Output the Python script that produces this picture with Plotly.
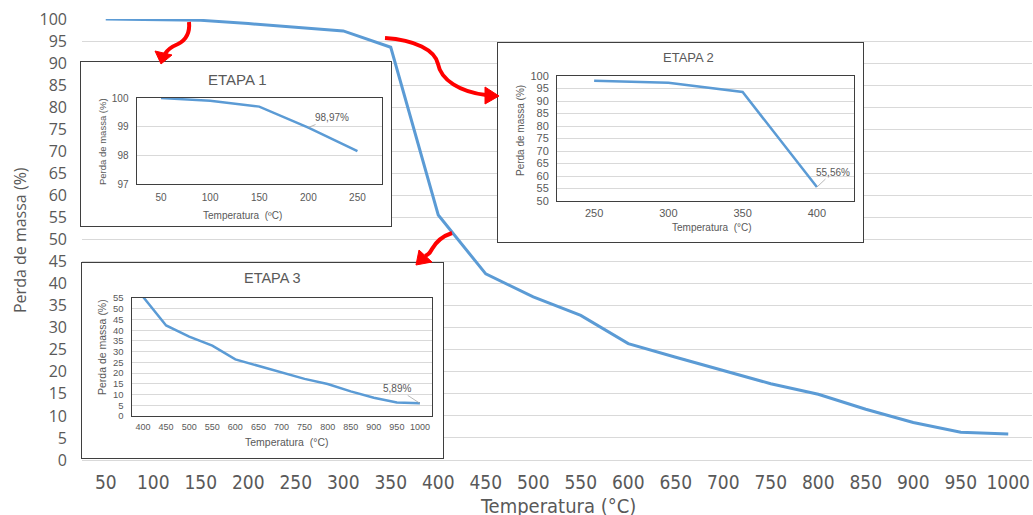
import plotly.graph_objects as go

# ---------------- data ----------------
temps = [50, 100, 150, 200, 250, 300, 350, 400, 450, 500, 550, 600, 650, 700,
         750, 800, 850, 900, 950, 1000]
mass = [100.0, 99.9, 99.7, 98.97, 98.15, 97.3, 93.6, 55.56, 42.2, 37.0, 32.8,
        26.4, 23.3, 20.3, 17.3, 14.9, 11.5, 8.5, 6.3, 5.89]
temp_labels = [str(t) for t in temps]

# stage limits (temperature, °C)
stage_titles = ["ETAPA 1", "ETAPA 2", "ETAPA 3"]
stage_bounds = [(50, 250), (250, 400), (400, 1000)]
stage_mark = [200, 400, 1000]          # point carrying the % label
stage_yrange = [(97, 100), (50, 100), (0, 55)]
stage_ydtick = [1, 5, 5]
stage_xtitle = ["Temperatura  (ºC)", "Temperatura  (°C)", "Temperatura  (°C)"]

# ---------------- geometry helpers ----------------
W, H = 1033, 515
def fx(x):
    return x / W
def fy(y):
    return 1 - y / H
def dom_x(a, b):
    return [fx(a), fx(b)]
def dom_y(top, bottom):
    return [fy(bottom), fy(top)]

BLUE = "#5B9BD5"
TXT = "#595959"
GRID = "#D9D9D9"
FRAME = "#3F3F3F"
NARROW = "Liberation Sans Narrow, Arial Narrow, DejaVu Sans Condensed, sans-serif"
ARIAL = "Liberation Sans, Arial, sans-serif"

fig = go.Figure()

# main series
fig.add_trace(go.Scatter(x=temp_labels, y=mass, mode="lines",
                         line=dict(color=BLUE, width=3),
                         xaxis="x", yaxis="y", showlegend=False,
                         hoverinfo="x+y"))

layout = dict(
    width=W, height=H,
    margin=dict(l=0, r=0, t=0, b=0, autoexpand=False),
    paper_bgcolor="white", plot_bgcolor="white",
    showlegend=False,
    xaxis=dict(domain=dom_x(82, 1032), type="category", range=[-0.5, 19.5],
               showgrid=False, zeroline=False, showline=True, automargin=False,
               linecolor=GRID, linewidth=1, ticks="",
               tickfont=dict(family=NARROW, size=19, color=TXT),
               ticklabelstandoff=5, anchor="y"),
    yaxis=dict(domain=dom_y(19, 460), range=[0, 100], dtick=5, automargin=False,
               showgrid=True, gridcolor=GRID, gridwidth=1, zeroline=False,
               showline=False, ticks="",
               tickfont=dict(family="Open Sans, sans-serif", size=16, color=TXT),
               ticklabelstandoff=14, anchor="x"),
)

def note(text, x, y, size, family=ARIAL, angle=0):
    return dict(text=text, xref="paper", yref="paper", x=fx(x), y=fy(y),
                xanchor="center", yanchor="middle", textangle=angle,
                showarrow=False, font=dict(family=family, size=size, color=TXT))

annotations = [
    note("Perda de massa (%)", 20, 240, 16, "Open Sans, sans-serif", -90),
    note("Temperatura (°C)", 558, 506, 20, NARROW),
]

# inset boxes and plots (pixel rectangles: left, top, right, bottom)
boxes = [(81, 62, 391, 226), (498, 43, 863, 242), (82, 263, 443, 458)]
plots = [(136.5, 98, 382, 184), (557, 76, 854, 201), (131.5, 298, 431.5, 416)]
title_pos = [(237, 79, 15), (688, 57, 13), (272, 278, 14.5)]
ytitle_pos = [(102, 142, 9.5), (520, 131, 10), (102, 347, 10.5)]
xtitle_pos = [(242, 215, 10), (712, 227, 10), (287, 442, 10.5)]
tick_sizes = [(10, 10), (11, 11), (9, 9.5)]   # (x, y)
xtick_standoff = [4, 2, 2]
label_offset = [(24, -10), (16, -15), (-23, -15)]

for i in range(3):
    bx, by = 2 + 2 * i, 2 + 2 * i          # box axes
    px_, py_ = 3 + 2 * i, 3 + 2 * i        # plot axes
    l, t, r, b = boxes[i]
    layout[f"xaxis{bx}"] = dict(domain=dom_x(l, r), range=[0, 1], anchor=f"y{by}",
                                showgrid=False, zeroline=False, showticklabels=False,
                                ticks="", showline=True, mirror=True, automargin=False,
                                linecolor=FRAME, linewidth=1.3, fixedrange=True)
    layout[f"yaxis{by}"] = dict(domain=dom_y(t, b), range=[0, 1], anchor=f"x{bx}",
                                showgrid=False, zeroline=False, showticklabels=False,
                                ticks="", showline=True, mirror=True, automargin=False,
                                linecolor=FRAME, linewidth=1.3, fixedrange=True)
    fig.add_trace(go.Scatter(x=[], y=[], xaxis=f"x{bx}", yaxis=f"y{by}",
                             showlegend=False, hoverinfo="skip"))

    lo, hi = stage_bounds[i]
    idx = [k for k, tt in enumerate(temps) if lo <= tt <= hi]
    sx = [temp_labels[k] for k in idx]
    sy = [mass[k] for k in idx]
    pl, pt, pr, pb = plots[i]
    xs, ys = tick_sizes[i]
    layout[f"xaxis{px_}"] = dict(domain=dom_x(pl, pr), type="category",
                                 range=[-0.5, len(sx) - 0.5], anchor=f"y{py_}",
                                 showgrid=False, zeroline=False, ticks="", automargin=False,
                                 showline=True, mirror=True, linecolor=FRAME, linewidth=1,
                                 tickfont=dict(family=ARIAL, size=xs, color=TXT),
                                 ticklabelstandoff=xtick_standoff[i], fixedrange=True)
    y0, y1 = stage_yrange[i]
    layout[f"yaxis{py_}"] = dict(domain=dom_y(pt, pb), range=[y0, y1],
                                 dtick=stage_ydtick[i], anchor=f"x{px_}",
                                 showgrid=True, gridcolor=GRID, gridwidth=1,
                                 zeroline=False, ticks="", automargin=False,
                                 showline=True, mirror=True, linecolor=FRAME, linewidth=1,
                                 tickfont=dict(family=ARIAL, size=ys, color=TXT),
                                 ticklabelstandoff=5, fixedrange=True)
    fig.add_trace(go.Scatter(x=sx, y=sy, mode="lines",
                             line=dict(color=BLUE, width=2.5),
                             xaxis=f"x{px_}", yaxis=f"y{py_}",
                             showlegend=False, cliponaxis=True))

    tx, ty, ts = title_pos[i]
    annotations.append(note(stage_titles[i], tx, ty, ts))
    ax_, ay_, as_ = ytitle_pos[i]
    annotations.append(note("Perda de massa (%)", ax_, ay_, as_, angle=-90))
    xx, xy_, xsz = xtitle_pos[i]
    annotations.append(note(stage_xtitle[i], xx, xy_, xsz))
    mk = stage_mark[i]
    mv = mass[temps.index(mk)]
    ox, oy = label_offset[i]
    annotations.append(dict(text=f"{mv:.2f}".replace(".", ",") + "%",
                            xref=f"x{px_}", yref=f"y{py_}",
                            x=sx.index(str(mk)), y=mv,
                            ax=ox, ay=oy, showarrow=True, arrowhead=0,
                            arrowwidth=0.8, arrowcolor="#A6A6A6", standoff=0,
                            font=dict(family=ARIAL, size=10, color=TXT)))

layout["annotations"] = annotations

# red curved arrows (decorations, pixel coordinates)
def path(cmds):
    out = []
    for c in cmds:
        if isinstance(c, str):
            out.append(c)
        else:
            out.append(f"{fx(c[0]):.5f},{fy(c[1]):.5f}")
    return " ".join(out)

RED = "#FF0000"
shapes = []
shafts = [
    ["M", (189, 22), "C", (190, 32), (186, 40), (178, 44), "C", (171, 47), (167, 50), (165, 54)],
    ["M", (385, 38), "C", (415, 40), (435, 50), (438, 64), "C", (441, 80), (460, 92), (486, 95)],
    ["M", (452, 233), "C", (443, 236), (436, 242), (432, 249), "C", (430, 253), (428, 255), (425, 256)],
]
heads = [
    [(155, 51), (172, 55), (161, 64)],
    [(485, 87), (485, 104), (499, 96)],
    [(419, 250), (432, 262), (416, 265)],
]
for s in shafts:
    shapes.append(dict(type="path", xref="paper", yref="paper", path=path(s),
                       line=dict(color=RED, width=4), layer="above"))
for h in heads:
    shapes.append(dict(type="path", xref="paper", yref="paper",
                       path=path(["M", h[0], "L", h[1], "L", h[2], "Z"]),
                       fillcolor=RED, line=dict(color=RED, width=1), layer="above"))
layout["shapes"] = shapes

fig.update_layout(**layout)
fig.write_html("out.html", include_plotlyjs=True,
               config={"displayModeBar": False},
               post_script="document.body.style.margin='0';")
